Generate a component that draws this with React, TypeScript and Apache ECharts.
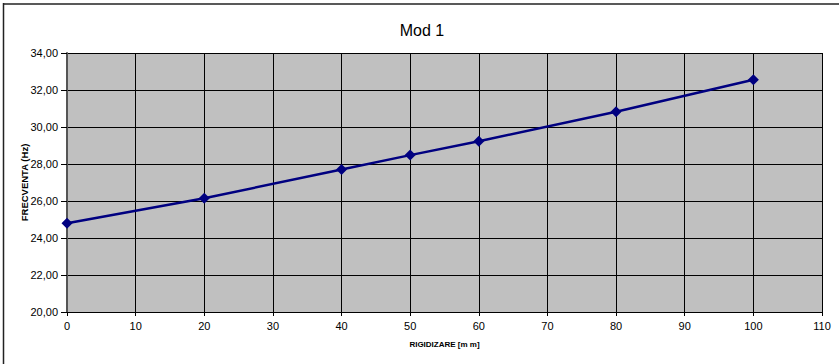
import React, { useEffect, useRef } from "react";
import * as echarts from "echarts";

const xValues = [0, 20, 40, 50, 60, 80, 100];
const freqValues = [24.8, 26.15, 27.7, 28.48, 29.23, 30.82, 32.55];
const titleText = "Mod 1";
const xName = "RIGIDIZARE [m m]";
const yName = "FRECVENTA (Hz)";

export default function App() {
  const ref = useRef<HTMLDivElement>(null);
  useEffect(() => {
    if (!ref.current) return;
    const chart = echarts.init(ref.current, undefined, { renderer: "svg" });
    const data = xValues.map((x, i) => [x, freqValues[i]]);
    chart.setOption({
      animation: false,
      backgroundColor: "#ffffff",
      title: {
        text: titleText,
        left: 417,
        top: 17,
        textAlign: "center",
        textStyle: { fontFamily: "Liberation Sans, Arial", fontSize: 16, fontWeight: "normal", color: "#000" },
      },
      graphic: [
        { type: "line", shape: { x1: 3, y1: 4, x2: 839, y2: 4 }, style: { stroke: "#222", lineWidth: 1.5 } },
        { type: "line", shape: { x1: 3.5, y1: 3, x2: 3.5, y2: 364 }, style: { stroke: "#222", lineWidth: 1.5 } },
      ],
      grid: {
        left: 67,
        top: 53,
        right: 17,
        bottom: 52,
        show: true,
        backgroundColor: "#C0C0C0",
        borderWidth: 0,
      },
      xAxis: {
        type: "value",
        min: 0,
        max: 110,
        interval: 10,
        name: xName,
        nameLocation: "middle",
        nameGap: 28,
        nameMoveOverlap: false,
        nameTextStyle: { fontFamily: "Liberation Sans, Arial", fontSize: 8, fontWeight: "bold", color: "#000" },
        axisLine: { show: true, onZero: false, lineStyle: { color: "#000", width: 1 } },
        axisTick: { show: true, length: 4, lineStyle: { color: "#000" } },
        axisLabel: {
          margin: 8,
          fontFamily: "Liberation Sans, Arial",
          fontSize: 11,
          color: "#000",
        },
        splitLine: { show: true, lineStyle: { color: "#000", width: 1 } },
      },
      yAxis: {
        type: "value",
        min: 20,
        max: 34,
        interval: 2,
        name: yName,
        nameLocation: "middle",
        nameGap: 38,
        nameRotate: 90,
        nameMoveOverlap: false,
        nameTextStyle: { fontFamily: "Liberation Sans, Arial", fontSize: 9.5, fontWeight: "bold", color: "#000" },
        axisLine: { show: true, lineStyle: { color: "#555", width: 2 } },
        axisTick: { show: true, length: 6, lineStyle: { color: "#000" } },
        axisLabel: {
          margin: 9,
          fontFamily: "Liberation Sans, Arial",
          fontSize: 11,
          color: "#000",
          formatter: (v: number) => v.toFixed(2).replace(".", ","),
        },
        splitLine: { show: true, lineStyle: { color: "#000", width: 1 } },
      },
      series: [
        {
          type: "line",
          data,
          symbol: "diamond",
          symbolSize: 11,
          lineStyle: { color: "#000080", width: 2.5 },
          itemStyle: { color: "#000080" },
        },
      ],
    });
    return () => chart.dispose();
  }, []);
  return <div ref={ref} style={{ position: "fixed", left: 0, top: 0, width: 839, height: 364 }} />;
}
